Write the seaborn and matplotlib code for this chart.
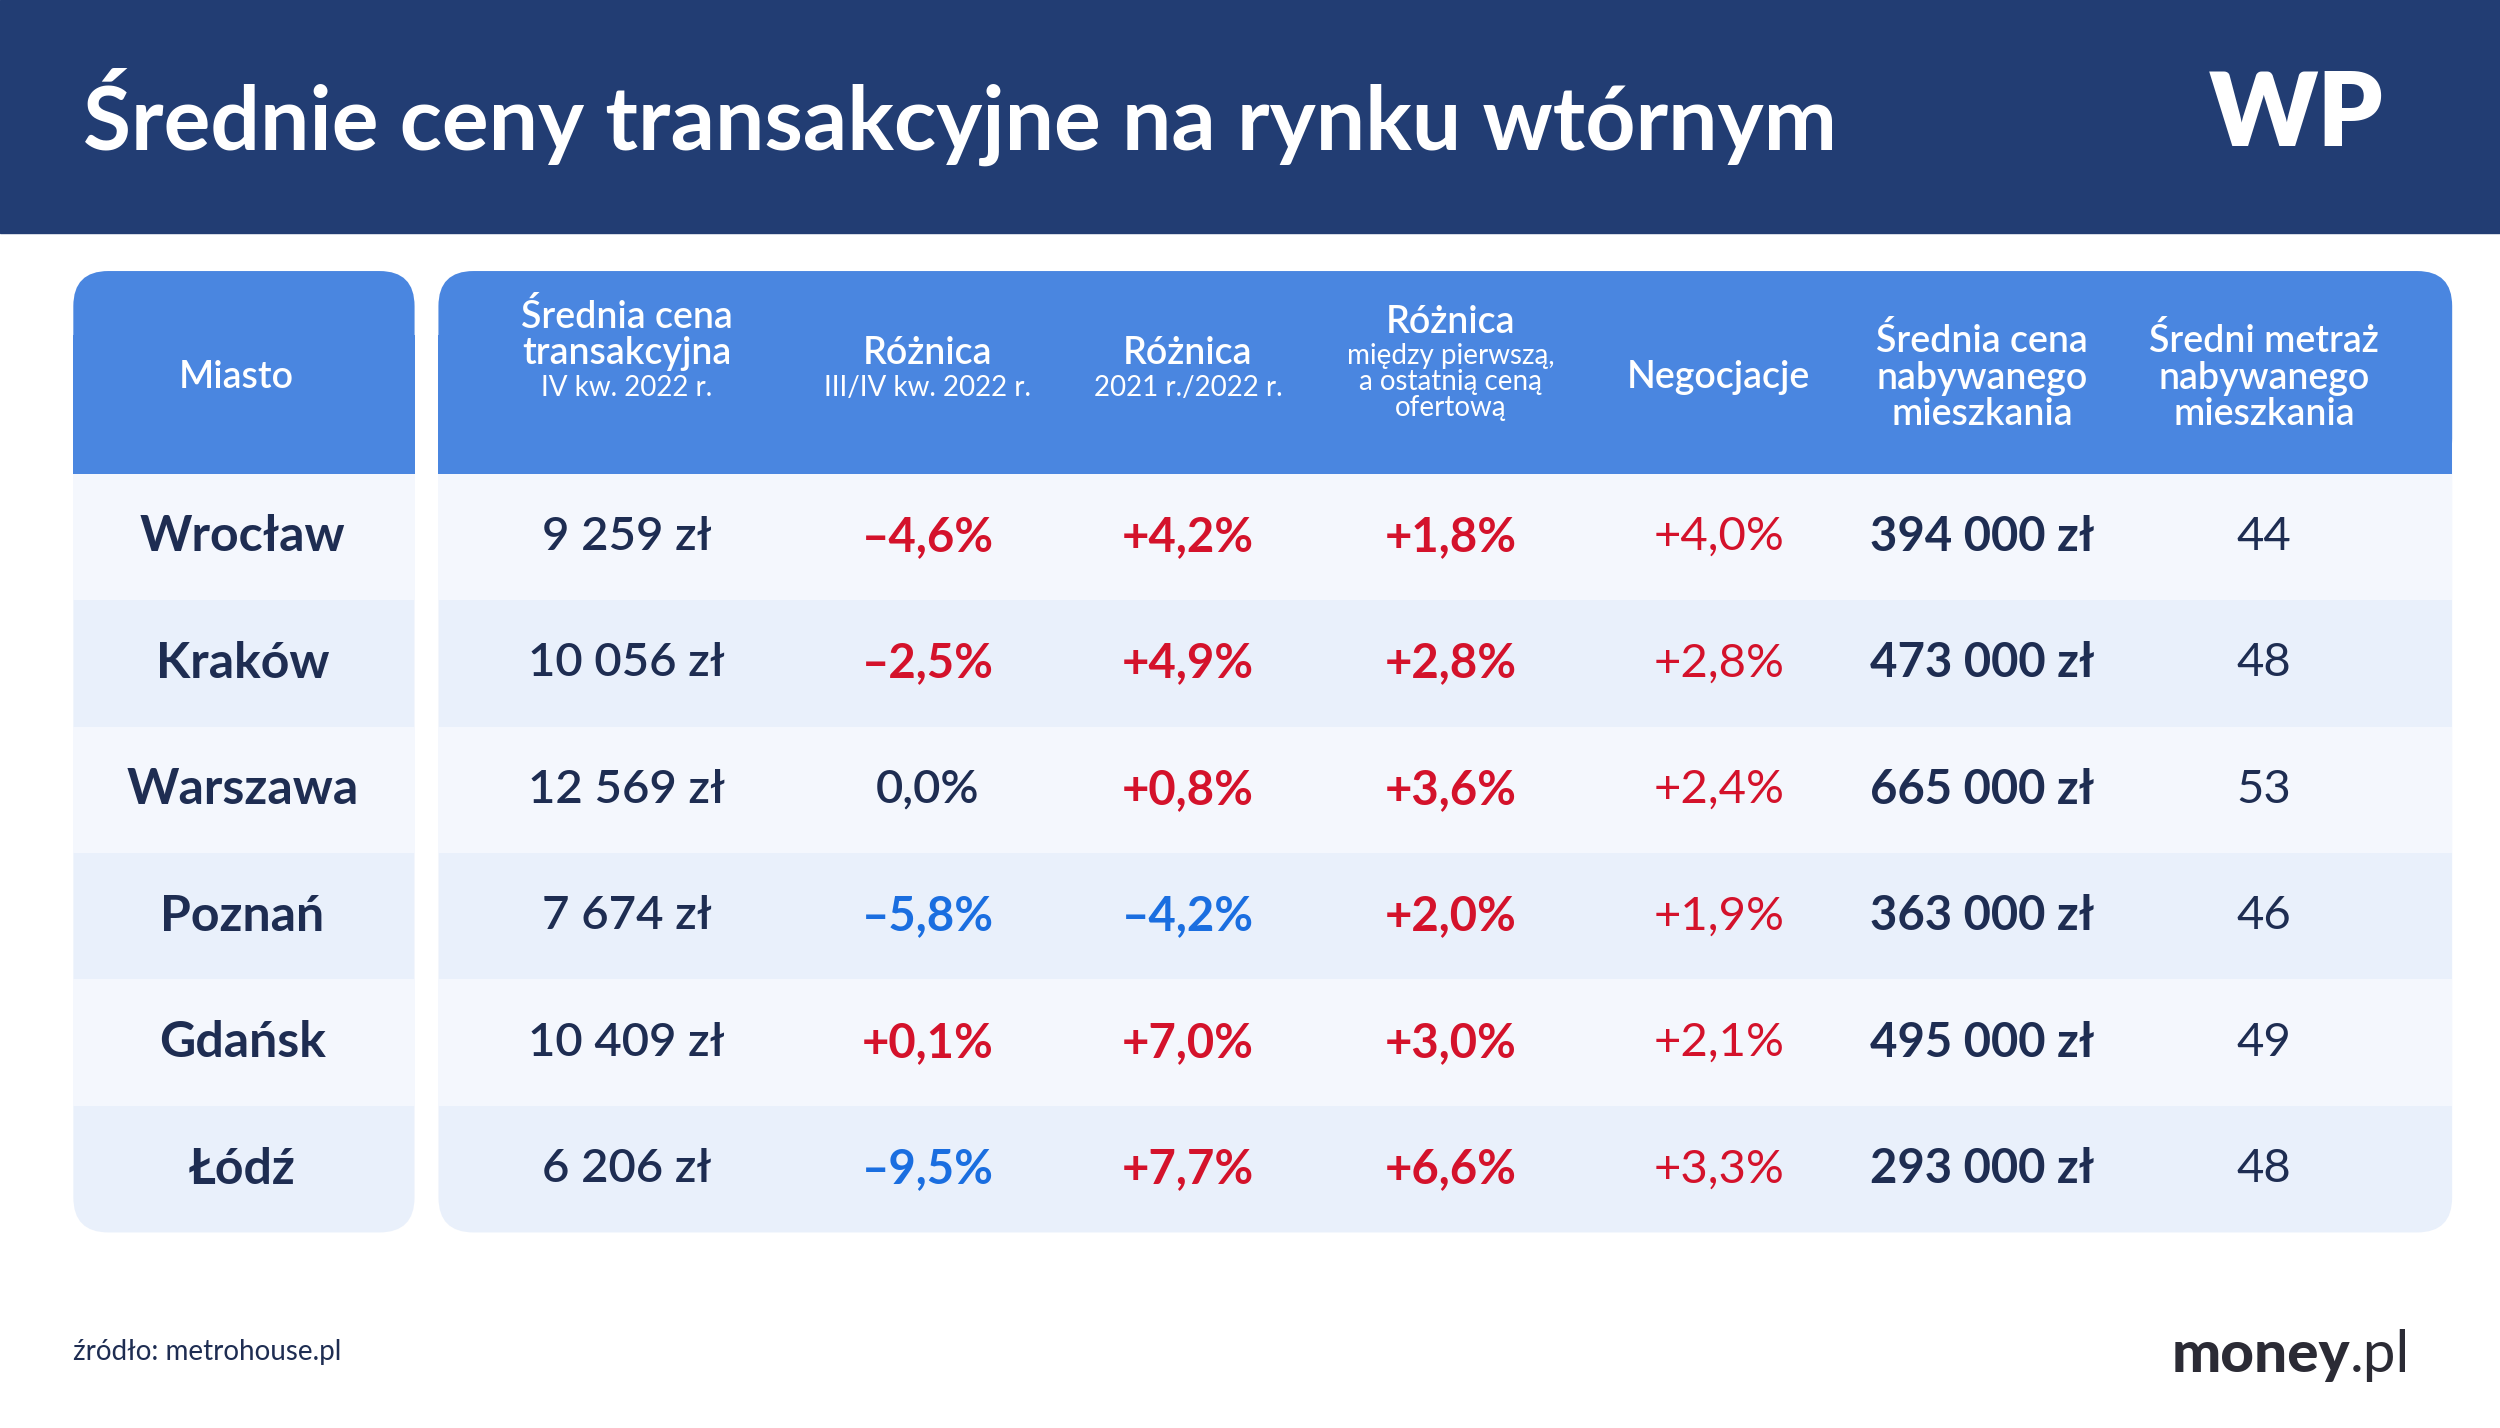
import matplotlib.pyplot as plt
import seaborn as sns
from matplotlib.patches import FancyBboxPatch, Rectangle

sns.set_theme(style="white")
plt.rcParams["font.family"] = ["Lato", "DejaVu Sans"]

# dane
miasta = ["Wrocław", "Kraków", "Warszawa", "Poznań", "Gdańsk", "Łódź"]
cena_m2 = ["9 259 zł", "10 056 zł", "12 569 zł", "7 674 zł", "10 409 zł", "6 206 zł"]
roznica_kw = ["-4,6%", "-2,5%", "0,0%", "-5,8%", "+0,1%", "-9,5%"]
kolor_kw = ["r", "r", "n", "b", "r", "b"]
roznica_rok = ["+4,2%", "+4,9%", "+0,8%", "-4,2%", "+7,0%", "+7,7%"]
kolor_rok = ["r", "r", "r", "b", "r", "r"]
roznica_ofert = ["+1,8%", "+2,8%", "+3,6%", "+2,0%", "+3,0%", "+6,6%"]
negocjacje = ["+4,0%", "+2,8%", "+2,4%", "+1,9%", "+2,1%", "+3,3%"]
cena_mieszkania = ["394 000 zł", "473 000 zł", "665 000 zł", "363 000 zł", "495 000 zł", "293 000 zł"]
metraz = [44, 48, 53, 46, 49, 48]

naglowki = [
    ("Średnia cena\ntransakcyjna", "IV kw. 2022 r."),
    ("Różnica", "III/IV kw. 2022 r."),
    ("Różnica", "2021 r./2022 r."),
    ("Różnica", "między pierwszą,\na ostatnią ceną\nofertową"),
    ("Negocjacje", ""),
    ("Średnia cena\nnabywanego\nmieszkania", ""),
    ("Średni metraż\nnabywanego\nmieszkania", ""),
]

NAVY = "#223d73"
BLUE = "#4a86e0"
TXT = "#1e2d52"
RED = "#d4122b"
NEG = "#1a6ee0"
LIGHT = "#f4f7fd"
DARK = "#e9f0fb"
KOLORY = {"r": RED, "b": NEG, "n": TXT}

W, H = 1568, 1568 * 1428 / 2500
fig = plt.figure(figsize=(25, 14.28), dpi=100)
ax = fig.add_axes([0, 0, 1, 1])
ax.set_xlim(0, W)
ax.set_ylim(H, 0)
ax.axis("off")
fig.patch.set_facecolor("white")

# naglowek
ax.add_patch(Rectangle((0, 0), W, 146, color=NAVY))
ax.text(52, 73, "Średnie ceny transakcyjne na rynku wtórnym", color="white",
        fontsize=63, fontweight="bold", va="center", ha="left")
ax.text(1440, 73, "WP", color="white", fontsize=74, fontweight="heavy",
        va="center", ha="center")

top, head_bot, bot = 170, 297, 773
row_h = (bot - head_bot) / len(miasta)


def panel(x0, x1):
    ax.add_patch(FancyBboxPatch((x0, top), x1 - x0, bot - top,
                                boxstyle="round,pad=0,rounding_size=22",
                                facecolor=DARK, edgecolor="none"))
    ax.add_patch(FancyBboxPatch((x0, top), x1 - x0, head_bot - top,
                                boxstyle="round,pad=0,rounding_size=22",
                                facecolor=BLUE, edgecolor="none"))
    ax.add_patch(Rectangle((x0, top + 40), x1 - x0, head_bot - top - 40,
                           facecolor=BLUE, edgecolor="none"))
    for i in range(0, len(miasta), 2):
        ax.add_patch(Rectangle((x0, head_bot + i * row_h), x1 - x0, row_h,
                               facecolor=LIGHT, edgecolor="none"))


panel(46, 260)
panel(275, 1538)

ax.text(148, 237, "Miasto", color="white", fontsize=27, fontweight="semibold",
        ha="center", va="center")

col_x = [393, 582, 745, 910, 1078, 1243, 1420]
for x, (h1, h2) in zip(col_x, naglowki):
    if h2:
        n2 = h2.count("\n") + 1
        hy = 237 - (n2 * 20) / 2 + 6
        ax.text(x, hy, h1, color="white", fontsize=27, fontweight="semibold",
                ha="center", va="bottom", linespacing=1.05)
        ax.text(x, hy + 2, h2, color="white", fontsize=20, ha="center",
                va="top", linespacing=1.0)
    else:
        ax.text(x, 237, h1, color="white", fontsize=27, fontweight="semibold",
                ha="center", va="center", linespacing=1.05)

for i, m in enumerate(miasta):
    y = head_bot + (i + 0.5) * row_h
    ax.text(152, y, m, color=TXT, fontsize=36, fontweight="bold",
            ha="center", va="center")
    ax.text(col_x[0], y, cena_m2[i], color=TXT, fontsize=34, fontweight="semibold",
            ha="center", va="center")
    ax.text(col_x[1], y, roznica_kw[i].replace("-", "–"), color=KOLORY[kolor_kw[i]],
            fontsize=34, fontweight="bold" if kolor_kw[i] != "n" else "semibold",
            ha="center", va="center")
    ax.text(col_x[2], y, roznica_rok[i].replace("-", "–"), color=KOLORY[kolor_rok[i]],
            fontsize=34, fontweight="bold", ha="center", va="center")
    ax.text(col_x[3], y, roznica_ofert[i], color=RED, fontsize=34,
            fontweight="bold", ha="center", va="center")
    ax.text(col_x[4], y, negocjacje[i], color=RED, fontsize=34,
            ha="center", va="center")
    ax.text(col_x[5], y, cena_mieszkania[i], color=TXT, fontsize=34,
            fontweight="bold", ha="center", va="center")
    ax.text(col_x[6], y, str(metraz[i]), color=TXT, fontsize=34,
            ha="center", va="center")

ax.text(46, 848, "źródło: metrohouse.pl", color=TXT, fontsize=20,
        ha="left", va="center")
ax.text(1474, 850, "money", color="#2b2b35", fontsize=42, fontweight="black",
        ha="right", va="center")
ax.text(1474, 850, ".pl", color="#2b2b35", fontsize=42, ha="left", va="center")

fig.savefig("out.png", dpi=100)
